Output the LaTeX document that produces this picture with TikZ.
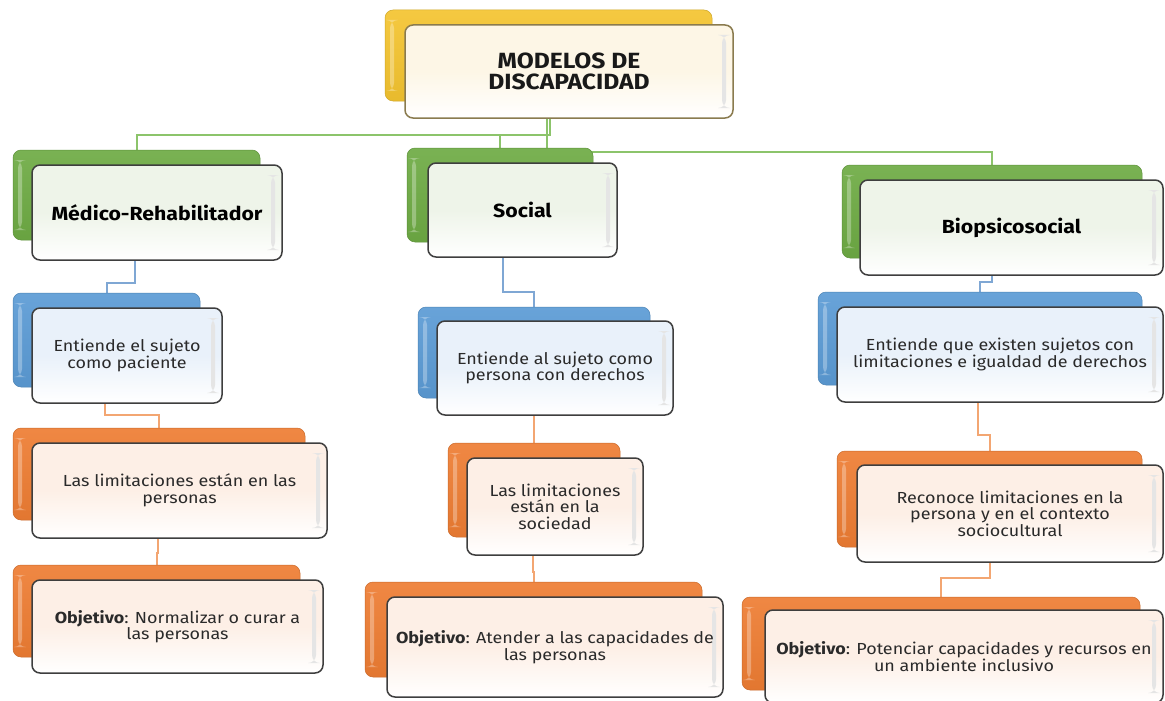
\documentclass[tikz,border=0pt]{standalone}
\usepackage{fontspec}
\setmainfont{Fira Sans}[FakeStretch=1.12]
\usetikzlibrary{fit,calc}
\pgfdeclarelayer{background}
\pgfsetlayers{background,main}
\definecolor{cY}{HTML}{F4C430}
\definecolor{cG}{HTML}{6EAB44}
\definecolor{cB}{HTML}{5B9BD5}
\definecolor{cO}{HTML}{EE7D33}
\definecolor{tY}{HTML}{FDF6E6}
\definecolor{tG}{HTML}{EEF4E9}
\definecolor{tB}{HTML}{E9F1FA}
\definecolor{tO}{HTML}{FDEFE6}
\definecolor{eY}{HTML}{8A7B4E}
\definecolor{eD}{HTML}{3E3E3E}
\definecolor{lG}{HTML}{8CC46B}
\definecolor{lB}{HTML}{7FA7D4}
\definecolor{lO}{HTML}{F3A672}
\definecolor{txtc}{HTML}{2A2A2A}
\tikzset{
  x=1pt, y=-1pt,
  bk/.style={rounded corners=8pt, inner sep=0pt, outer sep=0pt,
    draw=#1!85!black, line width=0.5pt,
    top color=#1!92!white, bottom color=#1!95!black,
    path picture={\fill[white,opacity=0.3]
      ([xshift=5pt,yshift=-10pt]path picture bounding box.north west) rectangle
      ([xshift=9pt,yshift=10pt]path picture bounding box.south west);}},
  fr/.style 2 args={rounded corners=8pt, inner sep=0pt, outer sep=0pt,
    draw=#2, line width=1.5pt,
    top color=#1, bottom color=white, middle color=#1,
    path picture={\fill[black!10]
      ([xshift=-11pt,yshift=-10pt]path picture bounding box.north east) rectangle
      ([xshift=-7pt,yshift=10pt]path picture bounding box.south east);}},
  bkY/.style={bk=cY}, bkG/.style={bk=cG}, bkB/.style={bk=cB}, bkO/.style={bk=cO},
  frY/.style={fr={tY}{eY}}, frG/.style={fr={tG}{eD}},
  frB/.style={fr={tB}{eD}}, frO/.style={fr={tO}{eD}},
  txt/.style={align=center, text=txtc, inner sep=0pt,
    font=\fontsize{16}{16.5}\selectfont},
  head/.style={align=center, text=black, inner sep=0pt,
    font=\fontsize{19}{21}\selectfont\bfseries},
  title/.style={align=center, text=black!90, inner sep=0pt,
    font=\fontsize{22}{21}\selectfont\bfseries},
  gline/.style={draw=lG, line width=2pt},
  bline/.style={draw=lB, line width=2pt},
  oline/.style={draw=lO, line width=2pt},
}
% #1 name, #2 colour key, #3 #4 back corners, #5 #6 front corners, #7 text style, #8 text
\newcommand\twobox[8]{%
  \coordinate (#1-b1) at (#3);
  \coordinate (#1-b2) at (#4);
  \coordinate (#1-f1) at (#5);
  \coordinate (#1-f2) at (#6);
  \node[bk#2, fit=(#1-b1)(#1-b2)] (#1-back) {};
  \node[fr#2, fit=(#1-f1)(#1-f2)] (#1) {};
  \node[#7] (#1-t) at (#1.center) {#8};
}
\begin{document}
\begin{tikzpicture}
\useasboundingbox (0,0) rectangle (1165,701);
\clip (0,0) rectangle (1165,701);

\twobox{top}{Y}{385,10}{712,101}{405,25}{733,118}{title}{MODELOS DE\\DISCAPACIDAD}

\twobox{med}{G}{13,150}{260,240}{32,165}{282,260}{head}{Médico-Rehabilitador}
\twobox{medb}{B}{13,293}{200,387}{32,308}{222,403}{txt}{Entiende el sujeto\\como paciente}
\twobox{medo1}{O}{13,428}{305,520}{32,443}{327,538}{txt}{Las limitaciones están en las\\personas}
\twobox{medo2}{O}{13,565}{300,657}{32,580}{323,673}{txt}{\textbf{Objetivo}: Normalizar o curar a\\las personas}

\twobox{soc}{G}{407,148}{593,242}{428,163}{617,257}{head}{Social}
\twobox{socb}{B}{418,307}{650,398}{437,321}{673,415}{txt}{Entiende al sujeto como\\persona con derechos}
\twobox{soco1}{O}{448,443}{620,537}{467,458}{643,555}{txt}{Las limitaciones\\están en la\\sociedad}
\twobox{soco2}{O}{365,582}{702,677}{387,597}{723,697}{txt}{\textbf{Objetivo}: Atender a las capacidades de\\las personas}

\twobox{bio}{G}{842,165}{1142,258}{860,180}{1163,275}{head}{Biopsicosocial}
\twobox{biob}{B}{818,292}{1142,385}{837,307}{1163,402}{txt}{Entiende que existen sujetos con\\limitaciones e igualdad de derechos}
\twobox{bioo1}{O}{837,451}{1142,547}{857,465}{1163,562}{txt}{Reconoce limitaciones en la\\persona y en el contexto\\sociocultural}
\twobox{bioo2}{O}{742,597}{1140,690}{765,610}{1163,703}{txt}{\textbf{Objetivo}: Potenciar capacidades y recursos en\\un ambiente inclusivo}

\begin{pgfonlayer}{background}
  \fill[white] (0,0) rectangle (1165,701);
  % level 1
  \draw[gline] ($(top.south)+(-19,0)$) |- ($(med-back.north)+(0,-15)$) -- (med-back.north);
  \draw[gline] ($(top.south)+(-19,0)$) |- ($(soc-back.north)+(0,-13)$) -- (soc-back.north);
  \draw[gline] ($(top.south)+(-22,0)$) |- ($(bio-back.north)+(0,-13)$) -- (bio-back.north);
  % Medico column
  \draw[bline] ($(med.south)+(-22,0)$) |- ($(medb-back.north)+(0,-10)$) -- (medb-back.north);
  \draw[oline] ($(medb.south)+(-22,0)$) |- ($(medo1-back.north)+(0,-13)$) -- (medo1-back.north);
  \draw[oline] ($(medo1.south)+(-22,0)$) |- ($(medo2-back.north)+(0,-12)$) -- (medo2-back.north);
  % Social column
  \draw[bline] ($(soc.south)+(-20,0)$) |- ($(socb-back.north)+(0,-15)$) -- (socb-back.north);
  \draw[oline] ($(socb.south)+(-21,0)$) |- ($(soco1-back.north)+(0,-10)$) -- (soco1-back.north);
  \draw[oline] ($(soco1.south)+(-22,0)$) |- ($(soco2-back.north)+(0,-10)$) -- (soco2-back.north);
  % Biopsicosocial column
  \draw[bline] ($(bio.south)+(-20,0)$) |- ($(biob-back.north)+(0,-10)$) -- (biob-back.north);
  \draw[oline] ($(biob.south)+(-22,0)$) |- ($(bioo1-back.north)+(0,-16)$) -- (bioo1-back.north);
  \draw[oline] ($(bioo1.south)+(-20,0)$) |- ($(bioo2-back.north)+(0,-19)$) -- (bioo2-back.north);
\end{pgfonlayer}
\end{tikzpicture}
\end{document}
